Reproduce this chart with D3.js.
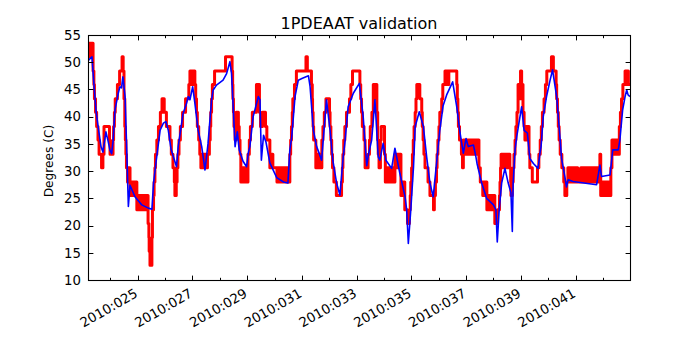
<!DOCTYPE html>
<html><head><meta charset="utf-8">
<script src="https://cdn.jsdelivr.net/npm/d3@7"></script>
<style>body{margin:0;background:#fff}svg{display:block}</style>
</head><body><svg id="c" width="700" height="350"></svg>
<script>
// ---- data (day of year 2010) ----
const modelTime = [23.19,23.33,23.40,23.48,23.56,23.66,23.73,23.79,23.84,23.92,23.99,24.05,24.10,24.17,24.29,24.35,24.41,24.46,24.54,24.60,24.66,24.72,24.90,25.15,25.39,25.52,25.58,25.68,25.82,25.94,26.03,26.12,26.22,26.42,26.48,26.66,26.79,26.85,26.91,27.01,27.09,27.21,27.34,27.46,27.57,27.70,27.76,27.88,28.12,28.25,28.37,28.43,28.49,28.56,28.64,28.71,28.85,28.98,29.04,29.10,29.22,29.41,29.47,29.52,29.60,29.69,29.83,30.08,30.33,30.49,30.56,30.63,30.75,30.87,31.00,31.24,31.30,31.42,31.54,31.63,31.72,31.78,31.90,32.03,32.13,32.27,32.39,32.51,32.57,32.69,32.88,33.10,33.24,33.37,33.43,33.55,33.67,33.79,33.85,33.97,34.07,34.28,34.40,34.58,34.77,34.83,34.89,34.98,35.08,35.14,35.29,35.44,35.56,35.68,35.80,35.92,36.04,36.16,36.29,36.51,36.66,36.78,36.90,37.00,37.08,37.27,37.36,37.40,37.57,37.75,38.00,38.09,38.14,38.21,38.30,38.42,38.54,38.64,38.69,38.72,38.79,38.85,38.97,39.03,39.12,39.24,39.33,39.46,39.63,39.70,39.74,39.82,39.94,40.07,40.16,40.31,40.40,40.49,40.61,40.67,40.73,40.91,41.77,41.89,41.95,42.26,42.36,42.56,42.62,42.72,42.81,42.87,42.92,42.99];
const modelTemp = [50.3,51.0,46.0,41.0,38.0,34.5,33.5,35.5,37.2,35.5,33.8,33.2,35.5,41.2,44.3,45.5,45.3,47.3,43.7,33.9,23.5,27.4,25.3,23.8,23.2,23.0,27.8,32.0,37.5,38.8,39.1,37.5,34.0,30.8,34.5,40.6,42.5,43.7,43.1,45.5,42.5,37.5,34.5,30.2,35.0,43.1,44.9,45.8,46.7,47.9,50.1,47.9,41.8,34.5,37.2,33.9,31.8,30.8,33.3,34.5,40.0,43.7,43.1,32.0,36.6,35.3,31.5,28.8,28.0,27.8,33.9,36.3,43.7,46.7,47.0,47.5,45.5,37.5,34.5,33.3,32.0,35.7,43.1,37.5,32.0,27.8,25.6,32.6,35.1,41.8,44.3,46.1,40.0,31.0,33.0,35.7,43.1,32.6,32.0,35.1,32.0,30.5,34.2,29.6,25.3,22.9,16.7,22.9,30.8,38.2,40.9,38.2,32.6,27.8,25.3,31.4,37.5,42.0,44.0,46.4,41.8,37.0,33.3,36.0,34.5,34.8,32.6,31.4,27.8,25.0,23.8,22.9,17.0,22.9,27.8,30.5,27.8,26.0,18.9,27.8,33.9,36.3,40.0,41.8,37.5,37.0,32.3,31.4,30.5,33.3,34.5,40.0,43.7,46.7,48.6,43.7,38.2,32.3,29.0,27.1,28.4,28.1,27.5,31.1,29.0,29.3,33.9,33.9,35.7,41.2,43.7,44.9,44.0,43.7];

// quantized telemetry: step start time, lowest and highest level seen in the step
const telemTime = [23.19,23.37,23.40,23.42,23.46,23.50,23.55,23.59,23.68,23.73,23.77,23.97,23.99,24.10,24.12,24.15,24.18,24.26,24.34,24.43,24.47,24.50,24.53,24.55,24.57,24.59,24.63,24.72,24.97,25.38,25.41,25.42,25.45,25.52,25.54,25.58,25.60,25.63,25.65,25.70,25.76,25.83,25.89,25.97,26.05,26.18,26.23,26.29,26.34,26.36,26.41,26.44,26.47,26.51,26.56,26.64,26.75,26.87,26.91,27.09,27.12,27.15,27.18,27.23,27.27,27.31,27.55,27.62,27.65,27.67,27.70,27.73,27.81,28.21,28.45,28.47,28.48,28.50,28.52,28.56,28.60,28.68,28.71,28.74,28.77,29.03,29.08,29.12,29.19,29.34,29.45,29.49,29.56,29.67,29.72,29.83,29.94,30.09,30.56,30.59,30.62,30.65,30.67,30.73,30.80,31.15,31.20,31.35,31.38,31.39,31.41,31.43,31.51,31.73,31.77,31.82,31.88,32.01,32.03,32.06,32.09,32.12,32.17,32.26,32.45,32.48,32.50,32.53,32.57,32.63,32.74,32.79,32.85,33.12,33.15,33.18,33.21,33.27,33.31,33.42,33.47,33.50,33.56,33.61,33.74,33.77,33.79,33.82,33.87,33.90,34.02,34.05,34.40,34.62,34.76,34.86,34.93,34.96,34.98,35.01,35.04,35.07,35.10,35.14,35.17,35.20,35.31,35.38,35.40,35.43,35.46,35.50,35.61,35.68,35.81,35.84,35.88,35.92,35.94,35.97,36.01,36.04,36.11,36.15,36.23,36.37,36.66,36.68,36.70,36.72,36.76,36.83,36.87,36.90,37.47,37.52,37.61,37.76,38.05,38.15,38.22,38.24,38.26,38.28,38.60,38.63,38.64,38.69,38.72,38.75,38.79,38.82,38.86,38.90,38.99,39.03,39.08,39.12,39.15,39.30,39.33,39.42,39.61,39.66,39.71,39.75,39.79,39.85,39.90,39.95,40.12,40.19,40.29,40.31,40.34,40.37,40.40,40.44,40.50,40.57,40.61,40.68,40.72,41.08,41.19,41.89,41.92,42.29,42.33,42.60,42.64,42.68,42.73,42.81,42.93,42.99];
const telemLo = [51.0,48.4,45.9,43.3,40.8,38.2,35.7,33.1,30.6,33.1,38.2,35.7,33.1,35.7,38.2,40.8,43.3,45.9,48.4,51.0,48.4,43.3,38.2,35.7,33.1,30.6,28.0,25.5,22.9,20.4,17.8,15.3,12.7,17.8,22.9,25.5,28.0,30.6,33.1,35.7,38.2,40.8,43.3,40.8,38.2,35.7,33.1,30.6,28.0,25.5,28.0,30.6,33.1,35.7,38.2,40.8,43.3,45.9,45.9,45.9,43.3,40.8,38.2,35.7,33.1,30.6,33.1,35.7,38.2,40.8,43.3,45.9,48.4,51.0,48.4,45.9,43.3,40.8,38.2,35.7,40.8,38.2,35.7,33.1,28.0,33.1,35.7,38.2,40.8,45.9,40.8,38.2,40.8,38.2,35.7,30.6,30.6,28.0,33.1,35.7,38.2,40.8,43.3,45.9,48.4,51.0,48.4,45.9,43.3,40.8,38.2,35.7,30.6,35.7,38.2,40.8,43.3,40.8,38.2,35.7,33.1,30.6,28.0,25.5,28.0,30.6,33.1,35.7,38.2,40.8,43.3,45.9,48.4,45.9,43.3,40.8,38.2,35.7,30.6,33.1,35.7,38.2,40.8,43.3,40.8,35.7,33.1,30.6,35.7,38.2,33.1,28.0,30.6,25.5,22.9,20.4,22.9,25.5,28.0,30.6,33.1,35.7,38.2,40.8,43.3,45.9,43.3,40.8,38.2,35.7,33.1,30.6,28.0,25.5,22.9,25.5,28.0,30.6,33.1,35.7,38.2,40.8,43.3,45.9,45.9,48.4,45.9,43.3,40.8,38.2,35.7,33.1,30.6,33.1,30.6,28.0,25.5,22.9,20.4,22.9,25.5,28.0,30.6,30.6,30.6,28.0,25.5,28.0,30.6,33.1,35.7,38.2,40.8,43.3,48.4,43.3,40.8,38.2,35.7,33.1,30.6,28.0,30.6,33.1,35.7,38.2,40.8,43.3,45.9,48.4,51.0,48.4,45.9,43.3,40.8,38.2,35.7,33.1,30.6,28.0,25.5,28.0,28.0,28.0,28.0,33.1,25.5,30.6,33.1,38.2,40.8,43.3,45.9,45.9,45.9,45.9];
const telemHi = [53.5,48.4,45.9,43.3,40.8,38.2,35.7,33.1,30.6,33.1,38.2,35.7,33.1,35.7,38.2,40.8,43.3,45.9,48.4,51.0,48.4,43.3,38.2,35.7,33.1,30.6,30.6,28.0,25.5,20.4,17.8,15.3,12.7,17.8,22.9,25.5,28.0,30.6,33.1,35.7,38.2,40.8,43.3,40.8,38.2,35.7,33.1,30.6,28.0,25.5,28.0,30.6,33.1,35.7,38.2,40.8,43.3,45.9,48.4,45.9,43.3,40.8,38.2,35.7,33.1,33.1,33.1,35.7,38.2,40.8,43.3,45.9,48.4,51.0,48.4,45.9,43.3,40.8,38.2,35.7,40.8,38.2,35.7,33.1,30.6,33.1,35.7,38.2,40.8,45.9,40.8,38.2,40.8,38.2,35.7,33.1,30.6,30.6,33.1,35.7,38.2,40.8,43.3,45.9,48.4,51.0,48.4,45.9,43.3,40.8,38.2,35.7,33.1,35.7,38.2,40.8,43.3,40.8,38.2,35.7,33.1,30.6,28.0,25.5,28.0,30.6,33.1,35.7,38.2,40.8,43.3,45.9,48.4,45.9,43.3,40.8,38.2,35.7,30.6,33.1,35.7,38.2,40.8,45.9,40.8,35.7,33.1,30.6,35.7,38.2,33.1,30.6,33.1,28.0,22.9,20.4,22.9,25.5,28.0,30.6,33.1,35.7,38.2,40.8,43.3,45.9,43.3,40.8,38.2,35.7,33.1,30.6,28.0,25.5,22.9,25.5,28.0,30.6,33.1,35.7,38.2,40.8,43.3,45.9,48.4,48.4,45.9,43.3,40.8,38.2,35.7,33.1,30.6,35.7,30.6,28.0,28.0,25.5,20.4,22.9,25.5,28.0,30.6,33.1,30.6,28.0,25.5,28.0,30.6,33.1,35.7,38.2,40.8,45.9,48.4,45.9,40.8,38.2,38.2,33.1,30.6,28.0,30.6,33.1,35.7,38.2,40.8,43.3,45.9,48.4,51.0,48.4,45.9,43.3,40.8,38.2,35.7,33.1,30.6,28.0,25.5,28.0,30.6,28.0,30.6,33.1,28.0,30.6,35.7,38.2,40.8,43.3,45.9,48.4,45.9,45.9];

const xMajorDays = [25,27,29,31,33,35,37,39,41];
const xMinorDays = [24,26,28,30,32,34,36,38,40,42];
const yTickValues = [10,15,20,25,30,35,40,45,50,55];
const titleText = "1PDEAAT validation";
const yLabelText = "Degrees (C)";

// ---- drawing ----
const svg = d3.select("#c");
const L = 88, R = 630, T = 35, B = 280;
const x = d3.scaleLinear().domain([23.185, 42.99]).range([L, R]);
const y = d3.scaleLinear().domain([10, 55]).range([B, T]);
const FONT = "'DejaVu Sans', sans-serif";

svg.append("rect").attr("width", 700).attr("height", 350).attr("fill", "#fff");
svg.append("defs").append("clipPath").attr("id", "clip")
  .append("rect").attr("x", L).attr("y", T).attr("width", R - L).attr("height", B - T);

const plot = svg.append("g").attr("clip-path", "url(#clip)");

const n = Math.min(telemTime.length, telemLo.length, telemHi.length);
const telem = d3.range(n).map(i => ({t: telemTime[i], lo: telemLo[i], hi: telemHi[i]}));
const area = d3.area().x(d => x(d.t)).y0(d => y(d.lo)).y1(d => y(d.hi)).curve(d3.curveStepAfter);
plot.append("path").datum(telem).attr("d", area)
  .attr("fill", "#ff0000").attr("stroke", "#ff0000").attr("stroke-width", 3)
  .attr("stroke-linejoin", "round").attr("stroke-linecap", "butt");

const model = modelTime.map((t, i) => ({t, v: modelTemp[i]}));
plot.append("path").datum(model)
  .attr("d", d3.line().x(d => x(d.t)).y(d => y(d.v)))
  .attr("fill", "none").attr("stroke", "#0000ff").attr("stroke-width", 1.6)
  .attr("stroke-linejoin", "round");

// frame
svg.append("rect").attr("x", L + 0.5).attr("y", T + 0.5).attr("width", R - L).attr("height", B - T)
  .attr("fill", "none").attr("stroke", "#000").attr("stroke-width", 1.1);

// ticks (inward, both sides)
const tk = svg.append("g").attr("stroke", "#000").attr("stroke-width", 1);
function xt(days, len) {
  days.forEach(d => {
    const px = Math.round(x(d)) + 0.5;
    tk.append("line").attr("x1", px).attr("x2", px).attr("y1", B).attr("y2", B - len);
    tk.append("line").attr("x1", px).attr("x2", px).attr("y1", T + 1).attr("y2", T + 1 + len);
  });
}
xt(xMajorDays, 4.4);
xt(xMinorDays, 2.2);
yTickValues.forEach(v => {
  const py = Math.round(y(v)) + 0.5;
  tk.append("line").attr("x1", L + 1).attr("x2", L + 1 + 4.4).attr("y1", py).attr("y2", py);
  tk.append("line").attr("x1", R).attr("x2", R - 4.4).attr("y1", py).attr("y2", py);
});

// y tick labels
svg.append("g").selectAll("text").data(yTickValues).join("text")
  .attr("x", 81).attr("y", d => y(d)).attr("dy", "0.36em")
  .attr("text-anchor", "end").attr("font-family", FONT).attr("font-size", 13.3)
  .attr("fill", "#000").text(d => d);

// x tick labels
const fmt = d => "2010:" + String(d).padStart(3, "0");
svg.append("g").selectAll("text").data(xMajorDays).join("text")
  .attr("transform", d => `translate(${x(d) + 1},${296}) rotate(-30)`)
  .attr("text-anchor", "end").attr("font-family", FONT).attr("font-size", 13.3)
  .attr("fill", "#000").text(fmt);

// title & y label
svg.append("text").attr("x", (L + R) / 2).attr("y", 29).attr("text-anchor", "middle")
  .attr("font-family", FONT).attr("font-size", 16).attr("fill", "#000").text(titleText);
svg.append("text").attr("transform", `translate(53,161) rotate(-90)`)
  .attr("text-anchor", "middle").attr("font-family", FONT).attr("font-size", 12.2)
  .attr("fill", "#000").text(yLabelText);
</script>
</body></html>
